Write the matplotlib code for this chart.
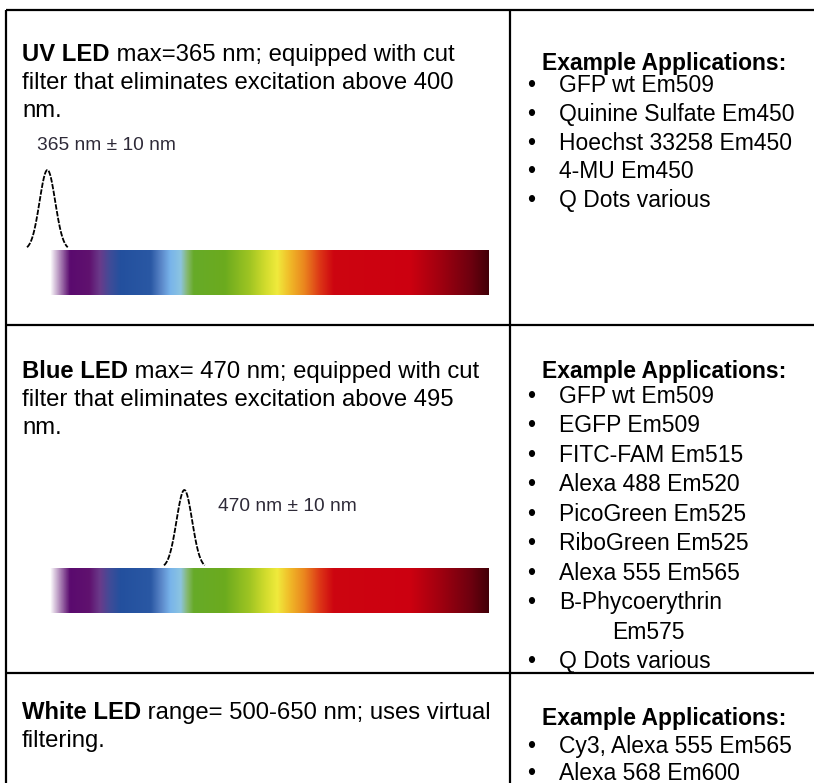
import numpy as np
import matplotlib
matplotlib.use("Agg")
import matplotlib.pyplot as plt
from matplotlib.colors import to_rgb

W, H = 814, 783
FS_LEFT = 17.2     # description text, pt
FS = 16.5          # application lists, pt
FS_LABEL = 13.8    # peak label, pt
plt.rcParams["font.family"] = ["Liberation Sans", "DejaVu Sans"]

# colour stops of the visible spectrum bar
SPECTRUM_NM = [367, 382, 397, 405, 413, 421, 444, 452, 459, 467, 472, 477,
               501, 520, 532, 541, 551, 562, 574, 584, 643, 666, 689, 703]
SPECTRUM_COLORS = ["#5a0a6e", "#5a0a6e", "#60126f", "#6a3a8a", "#3f4c98", "#23509e",
                   "#2a58a4", "#5a86c8", "#78b4ea", "#8cc4e0", "#86b870", "#66aa28",
                   "#6cab1e", "#a0c523", "#d2dc2d", "#f0ea3c", "#f0b828", "#ea841e",
                   "#dc3416", "#cd0510", "#cc0010", "#a0000f", "#6e000f", "#420008"]
FADE_NM = [367, 382]

# LED peaks
LED_NAMES = ["UV", "Blue"]
LED_PEAK_NM = [365, 470]
LED_TOL_NM = [10, 10]
PEAK_SIGMA_NM = 6.0

# left column text
UV_HEAD = ("UV LED", " max=365 nm; equipped with cut")
UV_BODY = ["filter that eliminates excitation above 400", "nm."]
BLUE_HEAD = ("Blue LED", " max= 470 nm; equipped with cut")
BLUE_BODY = ["filter that eliminates excitation above 495", "nm."]
WHITE_HEAD = ("White LED", " range= 500-650 nm; uses virtual")
WHITE_BODY = ["filtering."]

# right column lists
UV_APPS = ["GFP wt Em509", "Quinine Sulfate Em450", "Hoechst 33258 Em450",
           "4-MU Em450", "Q Dots various"]
BLUE_APPS = ["GFP wt Em509", "EGFP Em509", "FITC-FAM Em515", "Alexa 488 Em520",
             "PicoGreen Em525", "RiboGreen Em525", "Alexa 555 Em565",
             "B-Phycoerythrin\nEm575", "Q Dots various"]
WHITE_APPS = ["Cy3, Alexa 555 Em565", "Alexa 568 Em600"]


def spectrum_rgba(n=700):
    nm = np.linspace(SPECTRUM_NM[0], SPECTRUM_NM[-1], n)
    rgb = np.array([to_rgb(c) for c in SPECTRUM_COLORS])
    img = np.ones((1, n, 4))
    for k in range(3):
        img[0, :, k] = np.interp(nm, SPECTRUM_NM, rgb[:, k])
    img[0, :, 3] = np.interp(nm, FADE_NM, [0, 1])
    return img


def spectrum_panel(fig, bar_top, bar_bot, peak_top, peak_nm, tol, label_pos):
    top_px, bot_px = peak_top - 10, bar_bot + 6
    unit = bar_top - peak_top
    ax = fig.add_axes([20 / W, 1 - bot_px / H, 480 / W, (bot_px - top_px) / H])
    ax.imshow(spectrum_rgba(), extent=(SPECTRUM_NM[0], SPECTRUM_NM[-1],
                                       -(bar_bot - bar_top) / unit, 0),
              aspect="auto", interpolation="bilinear")
    lam = np.linspace(peak_nm - 2.6 * PEAK_SIGMA_NM, peak_nm + 2.6 * PEAK_SIGMA_NM, 200)
    ax.plot(lam, np.exp(-0.5 * ((lam - peak_nm) / PEAK_SIGMA_NM) ** 2),
            color="black", lw=1.3, ls=(0, (3, 0.8)))
    ax.text(label_pos[0], label_pos[1], f"{peak_nm} nm \u00b1 {tol} nm",
            fontsize=FS_LABEL, color="#2e2a38", va="center", clip_on=False)
    ax.set_xlim(344, 712)
    ax.set_ylim(-(bot_px - bar_top) / unit, (bar_top - top_px) / unit)
    ax.axis("off")
    return ax


def lead_line(ax, x, y, bold, rest):
    t = ax.text(x, y, bold, fontsize=FS_LEFT, fontweight="bold", va="baseline")
    ax.annotate(rest, xy=(1, 0), xycoords=t, fontsize=FS_LEFT, va="bottom")


def app_list(ax, head_y, ys, items):
    ax.text(542, head_y, "Example Applications:", fontsize=FS,
            fontweight="bold", va="baseline")
    for y, item in zip(ys, items):
        ax.text(531, y, "\u2022", fontsize=FS, ha="center", va="baseline")
        first, *more = item.split("\n")
        ax.text(559, y, first, fontsize=FS, va="baseline")
        for j, extra in enumerate(more, 1):
            ax.text(612, y + 30 * j, extra, fontsize=FS, va="baseline")


def main():
    fig = plt.figure(figsize=(W / 100, H / 100), dpi=100)
    ax = fig.add_axes([0, 0, 1, 1])
    ax.set_xlim(0, W)
    ax.set_ylim(H, 0)
    ax.axis("off")

    # table grid
    lw = 1.6
    for y in (10, 325, 673):
        ax.plot([6, W], [y, y], color="black", lw=lw, solid_capstyle="butt")
    for x in (6, 510):
        ax.plot([x, x], [10, H], color="black", lw=lw, solid_capstyle="butt")

    # left column
    lead_line(ax, 22, 61, *UV_HEAD)
    for i, s in enumerate(UV_BODY, 1):
        ax.text(22, 61 + 28 * i, s, fontsize=FS_LEFT, va="baseline")
    lead_line(ax, 22, 378, *BLUE_HEAD)
    for i, s in enumerate(BLUE_BODY, 1):
        ax.text(22, 378 + 28 * i, s, fontsize=FS_LEFT, va="baseline")
    lead_line(ax, 22, 719, *WHITE_HEAD)
    for i, s in enumerate(WHITE_BODY, 1):
        ax.text(22, 719 + 28 * i, s, fontsize=FS_LEFT, va="baseline")

    # right column
    app_list(ax, 70, [92, 121, 150, 178, 207], UV_APPS)
    app_list(ax, 378, [403, 432, 462, 491, 521, 550, 580, 609, 668], BLUE_APPS)
    app_list(ax, 725, [753, 780], WHITE_APPS)

    # spectra with LED peaks
    spectrum_panel(fig, 250, 295, 170, LED_PEAK_NM[0], LED_TOL_NM[0], (357, 1.31))
    spectrum_panel(fig, 568, 613, 490, LED_PEAK_NM[1], LED_TOL_NM[1], (496, 0.79))

    fig.savefig("out.png", dpi=100)
    plt.close(fig)


if __name__ == "__main__":
    main()
